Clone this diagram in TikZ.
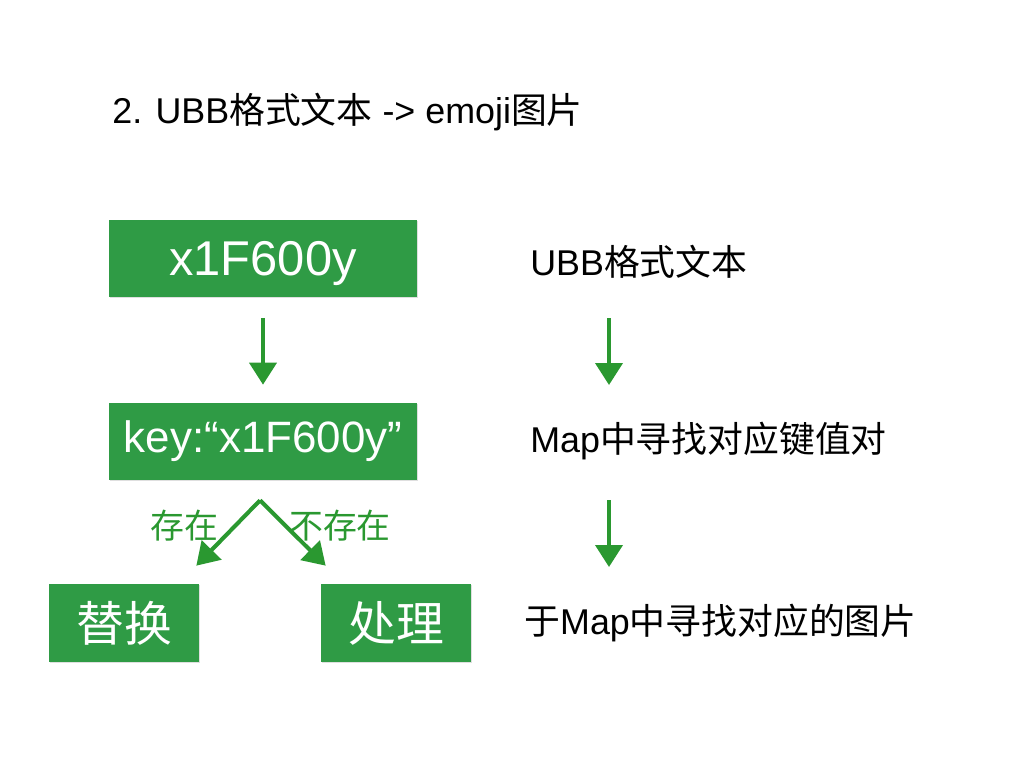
\documentclass[tikz,border=0pt]{standalone}
\usepackage{fontspec}
\setmainfont{Liberation Sans}
\newfontfamily\cjk{Noto Sans CJK SC}
\newcommand\zh[1]{{\cjk #1}}
\usetikzlibrary{arrows.meta,shadows}
\definecolor{boxgreen}{RGB}{47,155,69}
\definecolor{flowgreen}{RGB}{42,152,48}

\begin{document}
\begin{tikzpicture}[x=0.02cm, y=-0.02cm,
  box/.style={fill=boxgreen, text=white, inner sep=0pt,
    drop shadow={opacity=0.25, shadow xshift=0.6pt, shadow yshift=-0.6pt}},
  wide/.style={box, minimum width=6.16cm, minimum height=1.54cm},
  small/.style={box, minimum width=3cm, minimum height=1.56cm,
    font=\fontsize{27.2}{32}\selectfont},
  note/.style={anchor=west, inner sep=0pt, font=\fontsize{20.4}{24}\selectfont},
  tag/.style={text=flowgreen, inner sep=0pt, font=\fontsize{19.3}{23}\selectfont},
  flow/.style={color=flowgreen, line width=2.3pt,
    -{Triangle[width=0.54cm,length=0.44cm]}}]
  \useasboundingbox (0,0) rectangle (1024,768);

  \node[note] (title) at (112,112) {2. UBB\zh{格式文本} -> emoji\zh{图片}};

  \node[wide, text depth=0pt, font=\fontsize{27.8}{32}\selectfont] (src) at (263,258.5) {x1F600y};
  \node[wide, font=\fontsize{25}{30}\selectfont] (key) at (263,441.5) {key:“x1F600y”};
  \node[small] (hit)  at (124,623) {\zh{替换}};
  \node[small] (miss) at (396,623) {\zh{处理}};

  \node[note] (ubb) at (530,262) {UBB\zh{格式文本}};
  \node[note] (map) at (530,441) {Map\zh{中寻找对应键值对}};
  \node[note] (img) at (524,623) {\zh{于}Map\zh{中寻找对应的图片}};

  \node[tag] (yes) at (184,526) {\zh{存在}};
  \node[tag] (no)  at (340,526) {\zh{不存在}};

  \coordinate (fork) at ([shift={(-3,20)}]key.south);
  \path[flow]
    (src.south) edge [shorten <=0.41cm, shorten >=0.36cm] (key.north)
    (fork) edge ([shift={(-3,-18)}]hit.north east)
    (fork) edge ([shift={(5,-18)}]miss.north west)
    ([shift={(79,56)}]ubb.west) edge ([shift={(79,-56)}]map.west)
    ([shift={(79,59)}]map.west) edge ([shift={(85,-56)}]img.west)
    ;
\end{tikzpicture}
\end{document}
